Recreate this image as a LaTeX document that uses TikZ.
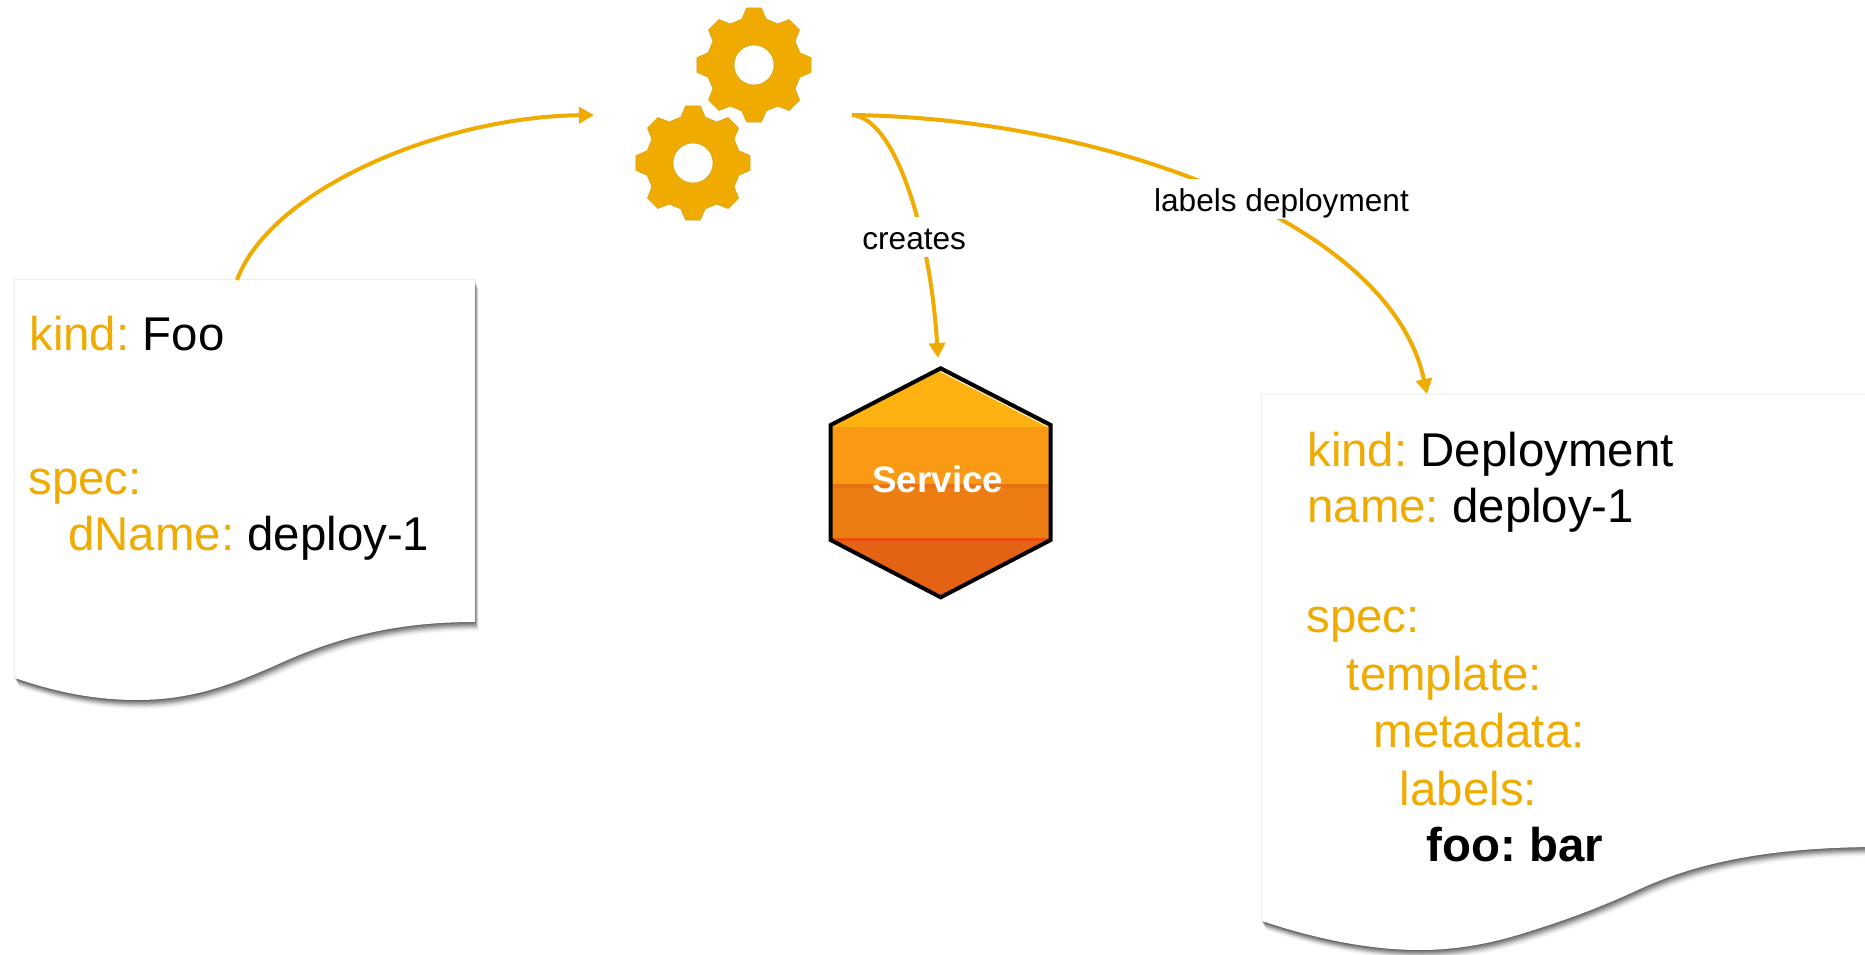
\documentclass[tikz,border=0pt]{standalone}
\usepackage{fontspec}
\setmainfont{Liberation Sans}
\frenchspacing
\usetikzlibrary{arrows.meta}
\definecolor{kube}{HTML}{F0AB00}
\definecolor{hexa}{HTML}{FDB211}
\definecolor{hexb}{HTML}{FA9914}
\definecolor{hexc}{HTML}{EC7D13}
\definecolor{hexd}{HTML}{E46213}
\tikzset{
  x=0.5pt, y=-0.5pt,
  yamltext/.style={anchor=base west, inner sep=0pt, font=\fontsize{23.7}{27}\selectfont, text=black},
  flow/.style={draw=kube, line width=2pt, -{Triangle[length=7.5pt,width=8pt]}},
  edgelabel/.style={anchor=base, fill=white, inner xsep=2pt, inner ysep=0pt, text depth=3.6pt, text height=16.2pt, font=\fontsize{15.8}{19}\selectfont},
  paper/.style={fill=white},
  gearshape/.pic={
    \path[fill=kube, draw=kube!80!gray, line width=0.25pt, even odd rule]
      (-105:47.5)
      \foreach \a in {-90,-45,...,225} {
        -- (\a-15:47.5) -- (\a-7.4:57.5) -- (\a+7.4:57.5) -- (\a+15:47.5)
      } -- cycle
      (0,0) circle (20);
  }
}
\newcommand{\key}[1]{\textcolor{kube}{#1}}
\newcommand{\docshadow}[1]{%
  \draw[black!7, line width=1pt] #1;
  \foreach \k/\o in {1/.10,2/.10,3/.10,4/.10,5/.10,6/.08,7/.07,8/.05,9/.04,10/.03,11/.02} {
    \fill[black, opacity=\o, shift={(0.4*\k-0.4,\k*0.85)}] #1;
  }
  \fill[paper] #1;
}
\begin{document}
\begin{tikzpicture}
\useasboundingbox (0,0) rectangle (1865,954);
\begin{scope}
\clip (0,0) rectangle (1865,954);
% left document
\draw[black!22, line width=1pt] (15,281) -- (15,678);
\docshadow{(15,280) -- (475,280) -- (475,622) .. controls (410,622) and (350,632) .. (283,662) .. controls (230,686) and (190,700) .. (137,700) .. controls (95,700) and (55,692) .. (15,678) -- cycle}
% right document
\draw[black!22, line width=1pt] (1262,395) -- (1262,921);
\docshadow{(1262,394.5) -- (1880,394.5) -- (1880,847) .. controls (1760,847) and (1690,866) .. (1640,889) .. controls (1610,903) and (1575,917) .. (1540,928) .. controls (1510,938) and (1470,950) .. (1420,950) .. controls (1365,950) and (1310,937) .. (1262,921) -- cycle}
\end{scope}
% text of left document
\node[yamltext] (fookind) at (29,350.3) {\key{kind:} Foo};
\node[yamltext] (foospec) at (28,494.3) {\key{spec:}};
\node[yamltext] (fooname) at (68,550.3) {\key{dName:} deploy-1};
% text of right document
\node[yamltext] (depkind) at (1307,466.3) {\key{kind:} Deployment};
\node[yamltext] (depname) at (1307,522.3) {\key{name:} deploy-1};
\node[yamltext] (depspec) at (1306,632.3) {\key{spec:}};
\node[yamltext] (deptemplate) at (1346.5,690.3) {\key{template:}};
\node[yamltext] (depmeta) at (1373.5,747) {\key{metadata:}};
\node[yamltext] (deplabels) at (1399.5,805.3) {\key{labels:}};
\node[yamltext, font=\fontsize{23.7}{27}\selectfont\bfseries] (depfoo) at (1426.5,861.3) {foo: bar};
% gears
\pic at (754,65) {gearshape};
\pic at (693,163) {gearshape};
% service hexagon
\begin{scope}
\clip (940.7,368.3) -- (1050.7,425) -- (1050.7,540) -- (940.7,597.3) -- (830.7,540) -- (830.7,425) -- cycle;
\fill[hexa] (820,360) rectangle (1065,427.3);
\fill[hexb] (820,427.3) rectangle (1065,484);
\fill[hexc] (820,484) rectangle (1065,538);
\fill[hexd] (820,538) rectangle (1065,610);
\fill[hexc!60!hexd] (820,484) rectangle (1065,487.5);
\fill[hexd!80!red] (820,538) rectangle (1065,540.5);
\draw[white, line width=0.4pt] (940.7,371.5) -- (1047.5,426.5);
\end{scope}
\draw[black, line width=2pt, line join=miter] (940.7,368.3) -- (1050.7,425) -- (1050.7,540) -- (940.7,597.3) -- (830.7,540) -- (830.7,425) -- cycle;
\node[anchor=base, inner sep=0pt, text=white, font=\fontsize{18.4}{22}\selectfont\bfseries] (service) at (937.7,492.9) {Service};
% connectors
\coordinate (fooout) at (237,280);
\coordinate (ctrlin) at (594,115);
\coordinate (ctrlout) at (852,115);
\coordinate (svcin) at (938,358);
\coordinate (depin) at (1427,394);
\draw[flow] (fooout) .. controls (270,190) and (440,117) .. (ctrlin);
\draw[flow] (ctrlout) .. controls (895,118) and (930,230) .. (svcin);
\draw[flow] (ctrlout) .. controls (1100,118) and (1390,220) .. (depin);
\node[edgelabel] (creates) at (914.2,249.8) {creates};
\node[edgelabel] (labelsdep) at (1281.5,211.5) {labels deployment};
\end{tikzpicture}
\end{document}
